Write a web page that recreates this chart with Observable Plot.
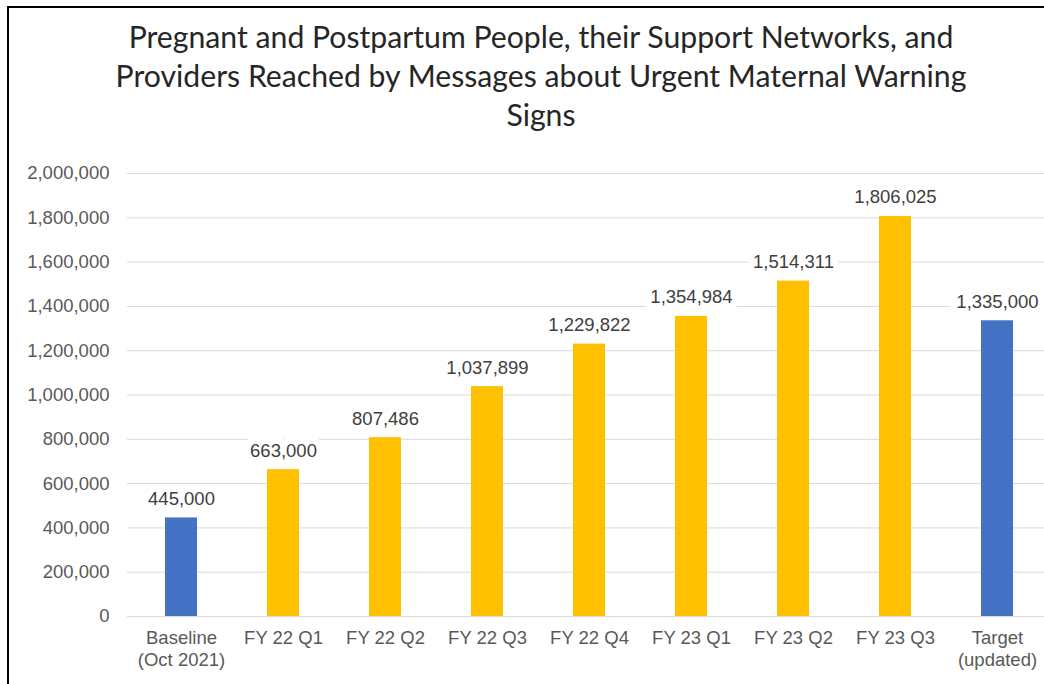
<!DOCTYPE html>
<html>
<head>
<meta charset="utf-8">
<script src="https://cdn.jsdelivr.net/npm/d3@7"></script>
<script src="https://cdn.jsdelivr.net/npm/@observablehq/plot@0.6"></script>
<style>
  html, body { margin: 0; padding: 0; background: #fff; overflow: hidden; }
  #wrap { position: relative; width: 1044px; height: 684px; }
  #frame { position: absolute; left: 7px; top: 6px; width: 1100px; height: 800px;
           border-top: 2.5px solid #000; border-left: 2.5px solid #000; box-sizing: border-box; }
  #title { position: absolute; left: 0; top: 17px; width: 1082px; text-align: center;
           font-family: Lato, "Open Sans", sans-serif; font-size: 30.2px; line-height: 39px; color: #262626; }
  #chart { position: absolute; left: 0; top: 0; }
</style>
</head>
<body>
<div id="wrap">
  <div id="frame"></div>
  <div id="chart"></div>
  <div id="title">Pregnant and Postpartum People, their Support Networks, and<br>Providers Reached by Messages about Urgent Maternal Warning<br>Signs</div>
</div>
<script>
const categories = ["Baseline\n(Oct 2021)", "FY 22 Q1", "FY 22 Q2", "FY 22 Q3", "FY 22 Q4", "FY 23 Q1", "FY 23 Q2", "FY 23 Q3", "Target\n(updated)"];
const values = [445000, 663000, 807486, 1037899, 1229822, 1354984, 1514311, 1806025, 1335000];
const kinds = ["reference", "actual", "actual", "actual", "actual", "actual", "actual", "actual", "reference"];
const yTicks = [0, 200000, 400000, 600000, 800000, 1000000, 1200000, 1400000, 1600000, 1800000, 2000000];

const data = categories.map((c, i) => ({category: c, value: values[i], kind: kinds[i]}));
const fmt = d3.format(",");
const labelOpts = {x: "category", y: "value", text: d => fmt(d.value), dy: -13, lineAnchor: "bottom", fontSize: 18.5};

const chart = Plot.plot({
  width: 1044,
  height: 684,
  marginTop: 173,
  marginBottom: 68,
  marginLeft: 127,
  marginRight: -7,
  style: {fontFamily: "'Liberation Sans', Arial, sans-serif", fontSize: "18px", color: "#595959", background: "transparent"},
  x: {domain: categories, paddingInner: 0.69, paddingOuter: 0.345, label: null},
  y: {domain: [0, 2000000], label: null},
  color: {domain: ["reference", "actual"], range: ["#4472C4", "#FFC000"]},
  marks: [
    Plot.gridY(yTicks, {stroke: "#d9d9d9", strokeOpacity: 1, strokeWidth: 1}),
    Plot.axisY(yTicks, {tickSize: 0, tickPadding: 18, tickFormat: fmt, fontSize: 18.5, fill: "#595959", label: null}),
    Plot.axisX({tickSize: 0, tickPadding: 12, fontSize: 18.5, fill: "#595959", lineHeight: 1.2, label: null}),
    Plot.text(data, {...labelOpts, fill: "white", stroke: "white", strokeWidth: 14}),
    Plot.barY(data, {x: "category", y: "value", fill: "kind"}),
    Plot.text(data, {...labelOpts, fill: "#404040"})
  ]
});
document.getElementById("chart").appendChild(chart);
</script>
</body>
</html>
